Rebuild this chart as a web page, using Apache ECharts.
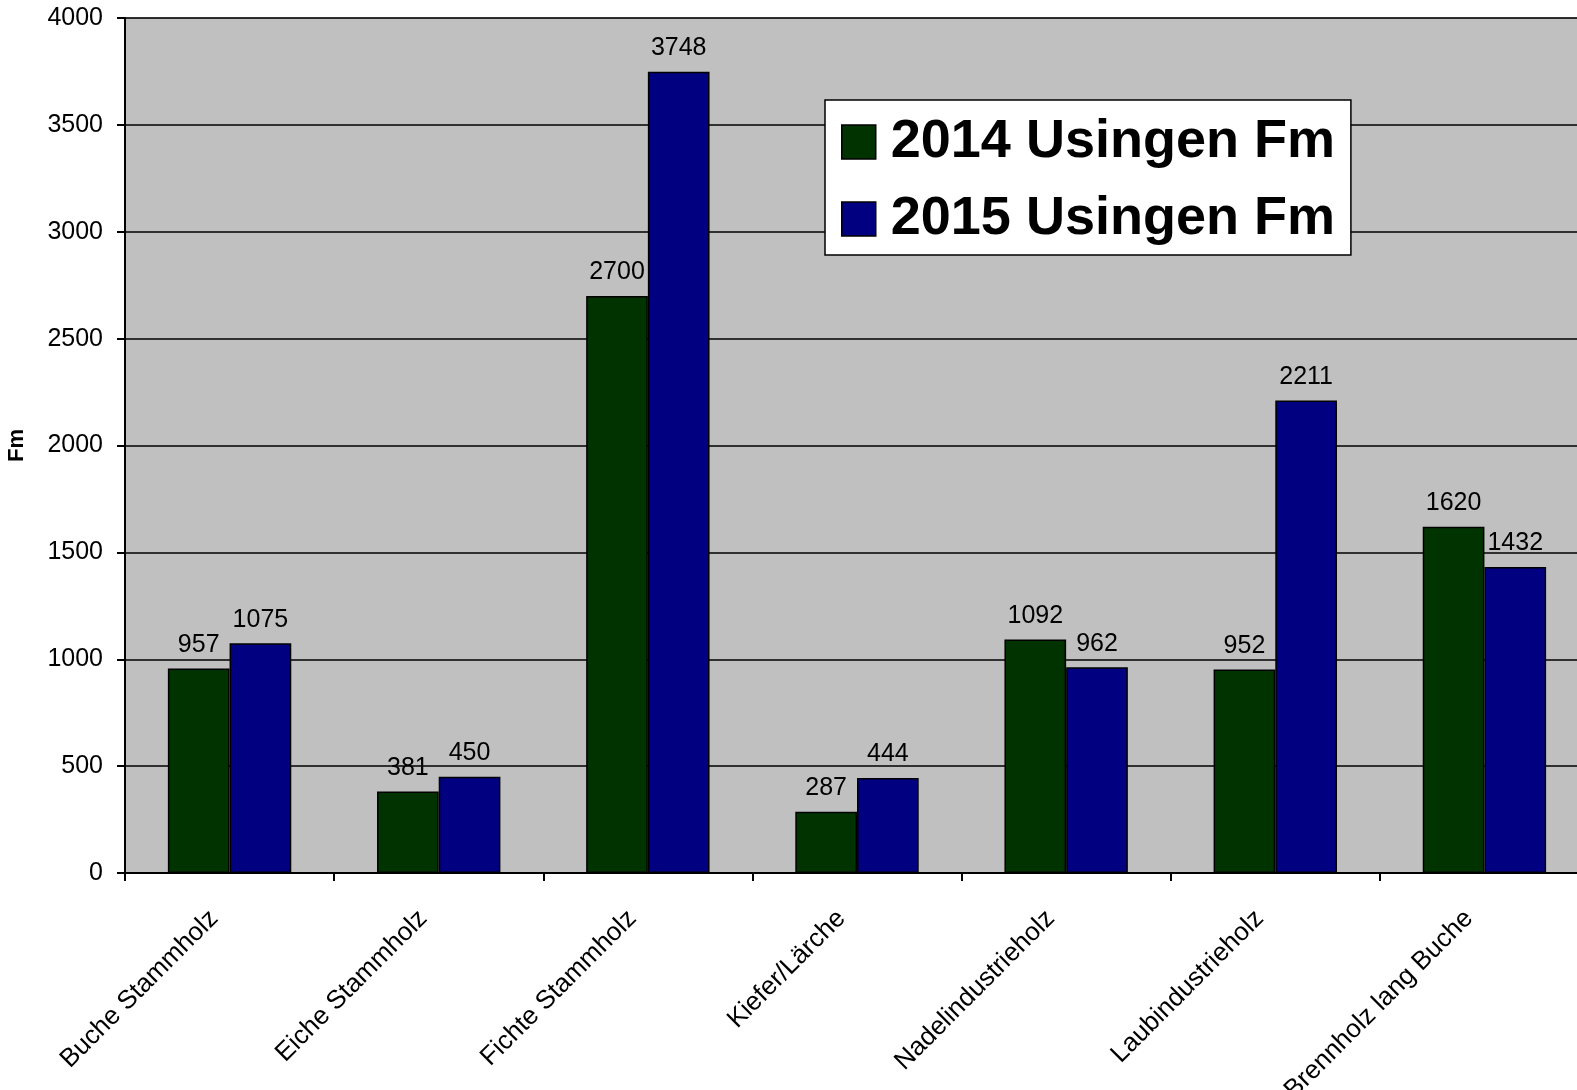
<!DOCTYPE html>
<html>
<head>
<meta charset="utf-8">
<title>Usingen Fm</title>
<script src="https://cdn.jsdelivr.net/npm/echarts@6/dist/echarts.min.js"></script>
<style>
  html, body { margin: 0; padding: 0; background: #fff; }
  #chart { width: 1577px; height: 1090px; }
</style>
</head>
<body>
<div id="chart"></div>
<script>
// Sortimente
const categories = [
  "Buche Stammholz",
  "Eiche Stammholz",
  "Fichte Stammholz",
  "Kiefer/Lärche",
  "Nadelindustrieholz",
  "Laubindustrieholz",
  "Brennholz lang Buche",
];
// 2014 Usingen Fm
const values2014 = [957, 381, 2700, 287, 1092, 952, 1620];
// 2015 Usingen Fm
const values2015 = [1075, 450, 3748, 444, 962, 2211, 1432];

const font = "Liberation Sans, Arial, sans-serif";

const chart = echarts.init(document.getElementById("chart"));

const labelStyle = {
  show: true,
  position: "top",
  distance: 11,
  color: "#000",
  fontSize: 25,
  fontFamily: font,
};

chart.setOption({
  animation: false,
  textStyle: { fontFamily: font },
  grid: {
    left: 125,
    top: 18,
    right: -12,
    bottom: 217,
    outerBoundsMode: "none",
    containLabel: false,
    show: true,
    backgroundColor: "#c0c0c0",
    borderColor: "#808080",
    borderWidth: 1,
  },
  legend: {
    orient: "vertical",
    left: 825,
    top: 100,
    padding: [14, 16, 8, 16],
    itemGap: 21,
    itemWidth: 34,
    itemHeight: 34,
    icon: "rect",
    backgroundColor: "#fff",
    borderColor: "#000",
    borderWidth: 1.5,
    itemStyle: { borderColor: "#000", borderWidth: 1.5 },
    textStyle: {
      fontSize: 54,
      lineHeight: 56,
      fontWeight: "bold",
      color: "#000",
      fontFamily: font,
      padding: [0, 0, 0, 10],
    },
    data: ["2014 Usingen Fm", "2015 Usingen Fm"],
  },
  xAxis: {
    type: "category",
    data: categories,
    axisLine: { lineStyle: { color: "#000", width: 2 } },
    axisTick: { show: true, length: 8, lineStyle: { color: "#000", width: 2 } },
    axisLabel: {
      interval: 0,
      rotate: 45,
      margin: 26,
      padding: [0, 22, 0, 0],
      fontSize: 26,
      color: "#000",
      fontFamily: font,
    },
  },
  yAxis: {
    type: "value",
    min: 0,
    max: 4000,
    interval: 500,
    name: "Fm",
    nameLocation: "middle",
    nameGap: 97,
    nameTextStyle: {
      fontSize: 22,
      fontWeight: "bold",
      color: "#000",
      fontFamily: font,
    },
    axisLine: { show: true, lineStyle: { color: "#000", width: 2 } },
    axisTick: { show: true, length: 8, lineStyle: { color: "#000", width: 2 } },
    splitLine: { lineStyle: { color: "#000", width: 1.5 } },
    axisLabel: {
      margin: 22,
      fontSize: 25,
      color: "#000",
      fontFamily: font,
      formatter: (v) => String(v),
    },
  },
  series: [
    {
      name: "2014 Usingen Fm",
      type: "bar",
      data: values2014,
      barGap: "0%",
      barCategoryGap: "41%",
      itemStyle: { color: "#003300", borderColor: "#000", borderWidth: 1.5 },
      label: labelStyle,
    },
    {
      name: "2015 Usingen Fm",
      type: "bar",
      data: values2015,
      itemStyle: { color: "#000080", borderColor: "#000", borderWidth: 1.5 },
      label: labelStyle,
    },
  ],
});
</script>
</body>
</html>
